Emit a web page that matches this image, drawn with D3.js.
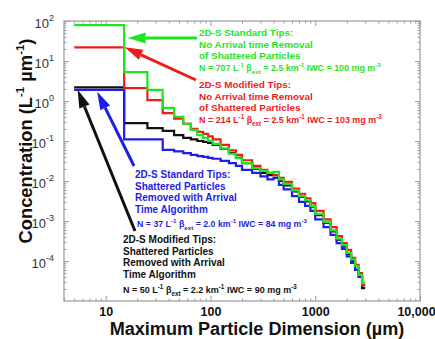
<!DOCTYPE html>
<html>
<head>
<meta charset="utf-8">
<script src="https://cdn.jsdelivr.net/npm/d3@7"></script>
<style>
  html, body { margin: 0; padding: 0; background: #fff; }
  svg { display: block; font-family: "Liberation Sans", Arial, sans-serif; }
</style>
</head>
<body>
<svg id="chart" width="435" height="339"></svg>
<script>
// Size-bin edges (µm) of the 2D-S size distribution
const binEdges = [5, 15, 25, 35, 45, 55, 65, 75, 85, 95, 105, 125, 150, 175, 200,
  250, 300, 350, 400, 450, 500, 600, 700, 800, 900, 1000, 1200, 1400, 1600, 1800,
  2000, 2200, 2400, 2600, 2800, 3000];

// Concentration per bin (L^-1 µm^-1)
const standardNoRemoval = [79, 5.3, 1.9, 0.67, 0.40, 0.27, 0.19, 0.14, 0.12, 0.10,
  0.085, 0.065, 0.048, 0.037, 0.028, 0.021, 0.018, 0.016, 0.017, 0.011,
  0.0085, 0.0058, 0.0042, 0.0033, 0.0024, 0.0015, 0.00095, 0.00058, 0.00036, 0.00025,
  0.00016, 0.00011, 0.000075, 0.000045, 0.000028];
const modifiedNoRemoval = [22, 2.1, 1.05, 0.5, 0.36, 0.27, 0.2, 0.17, 0.15, 0.13,
  0.11, 0.08, 0.058, 0.045, 0.033, 0.024, 0.019, 0.016, 0.014, 0.012,
  0.0095, 0.0065, 0.0048, 0.0037, 0.0028, 0.0018, 0.0011, 0.0007, 0.00042, 0.00028,
  0.00019, 0.00012, 0.00008, 0.00005, 0.000025];
const standardRemoved = [1.9, 0.11, 0.11, 0.06, 0.055, 0.05, 0.045, 0.042, 0.04, 0.038,
  0.036, 0.032, 0.028, 0.024, 0.019, 0.016, 0.013, 0.011, 0.012, 0.008,
  0.0062, 0.0042, 0.003, 0.0024, 0.0018, 0.0011, 0.0007, 0.00045, 0.00028, 0.0002,
  0.00013, 0.00009, 0.00006, 0.00004, 0.000025];
const modifiedRemoved = [2.2, 0.28, 0.21, 0.18, 0.14, 0.12, 0.11, 0.10, 0.095, 0.09,
  0.08, 0.064, 0.05, 0.038, 0.028, 0.02, 0.016, 0.014, 0.014, 0.01,
  0.0078, 0.0055, 0.004, 0.0031, 0.0023, 0.0014, 0.0009, 0.00055, 0.00034, 0.00023,
  0.00015, 0.0001, 0.00006, 0.00004, 0.000021];

const xTickValues = [10, 100, 1000, 10000];
const xTickLabels = ["10", "100", "1000", "10,000"];
const yTickExponents = [2, 1, 0, -1, -2, -3, -4];

const colors = { green: "#1ee61e", red: "#f01c1c", blue: "#1e1ee6", black: "#111" };

const series = [
  { name: "modifiedRemoved", values: modifiedRemoved, color: colors.black },
  { name: "standardRemoved", values: standardRemoved, color: colors.blue },
  { name: "modifiedNoRemoval", values: modifiedNoRemoval, color: colors.red },
  { name: "standardNoRemoval", values: standardNoRemoval, color: colors.green }
];

const svg = d3.select("#chart");
const plot = { left: 64, top: 21, right: 420, bottom: 301 };

const x = d3.scaleLog().domain([4, 10000]).range([plot.left, plot.right]);
const y = d3.scaleLog().domain([1e-5, 100]).range([plot.bottom, plot.top]);

// scale a text element's font sizes so its rendered length equals `target`
function fitWidth(textSel, target) {
  const w = textSel.node().getComputedTextLength();
  if (!w) return;
  const k = target / w;
  textSel.attr("font-size", +textSel.attr("font-size") * k);
  textSel.selectAll("tspan").each(function() {
    const t = d3.select(this);
    if (t.attr("font-size")) t.attr("font-size", +t.attr("font-size") * k);
    if (t.attr("dy")) t.attr("dy", +t.attr("dy") * k);
  });
}

// frame
svg.append("rect")
  .attr("x", plot.left).attr("y", plot.top)
  .attr("width", plot.right - plot.left).attr("height", plot.bottom - plot.top)
  .attr("fill", "none").attr("stroke", "#9a9a9a").attr("stroke-width", 1.2);

// minor / major tick positions
const xMinor = [];
for (let d = 1; d <= 1000; d *= 10) for (let k = 2; k <= 9; k++) { const v = k * d; if (v >= 4) xMinor.push(v); }
const yMinor = [];
for (let e = -5; e < 2; e++) for (let k = 2; k <= 9; k++) yMinor.push(k * Math.pow(10, e));
const yMajor = yTickExponents.map(e => Math.pow(10, e));

function styleAxis(g) {
  g.select(".domain").remove();
  g.selectAll(".tick line").attr("stroke", "#9a9a9a").attr("stroke-width", 1);
}

// bottom axis with labels
const xAxisBottom = d3.axisBottom(x).tickValues(xTickValues)
  .tickFormat((d, i) => xTickLabels[i]).tickSizeInner(-5).tickPadding(6);
svg.append("g").attr("transform", `translate(0,${plot.bottom})`).call(xAxisBottom)
  .call(styleAxis)
  .call(g => g.selectAll("text").attr("font-size", 12.5).attr("font-weight", "bold")
    .attr("fill", "#111").attr("font-family", "Liberation Sans, Arial, sans-serif"))
  .call(g => g.selectAll("text").filter(d => d === 10000).attr("dx", -4));
svg.append("g").attr("transform", `translate(0,${plot.bottom})`)
  .call(d3.axisBottom(x).tickValues(xMinor).tickFormat("").tickSizeInner(-2.5)).call(styleAxis);
svg.append("g").attr("transform", `translate(0,${plot.top})`)
  .call(d3.axisTop(x).tickValues(xTickValues).tickFormat("").tickSizeInner(-5)).call(styleAxis);
svg.append("g").attr("transform", `translate(0,${plot.top})`)
  .call(d3.axisTop(x).tickValues(xMinor).tickFormat("").tickSizeInner(-2.5)).call(styleAxis);

// left axis with power-of-ten labels
const yAxisLeft = d3.axisLeft(y).tickValues(yMajor).tickFormat("").tickSizeInner(-5);
const gy = svg.append("g").attr("transform", `translate(${plot.left},0)`).call(yAxisLeft).call(styleAxis);
gy.selectAll(".tick").each(function(d) {
  const e = Math.round(Math.log10(d));
  const t = d3.select(this).append("text")
    .attr("x", -10).attr("y", 6).attr("text-anchor", "end")
    .attr("fill", "#333").attr("font-size", 13);
  t.append("tspan").text("10");
  t.append("tspan").attr("font-size", 9).attr("dy", -7).text(String(e));
});
svg.append("g").attr("transform", `translate(${plot.left},0)`)
  .call(d3.axisLeft(y).tickValues(yMinor).tickFormat("").tickSizeInner(-2.5)).call(styleAxis);
svg.append("g").attr("transform", `translate(${plot.right},0)`)
  .call(d3.axisRight(y).tickValues(yMajor).tickFormat("").tickSizeInner(-5)).call(styleAxis);
svg.append("g").attr("transform", `translate(${plot.right},0)`)
  .call(d3.axisRight(y).tickValues(yMinor).tickFormat("").tickSizeInner(-2.5)).call(styleAxis);

// axis titles
const xTitle = svg.append("text")
  .attr("x", 257).attr("y", 335)
  .attr("text-anchor", "middle").attr("font-weight", "bold").attr("font-size", 16.5).attr("fill", "#111")
  .text("Maximum Particle Dimension (\u00b5m)");
fitWidth(xTitle, 295);

const yTitle = svg.append("text")
  .attr("transform", `translate(32,141) rotate(-90)`)
  .attr("text-anchor", "middle").attr("font-weight", "bold").attr("font-size", 16).attr("fill", "#111");
yTitle.append("tspan").text("Concentration (L");
yTitle.append("tspan").attr("font-size", 10).attr("dy", -7).text("-1");
yTitle.append("tspan").attr("dy", 7).text(" \u00b5m");
yTitle.append("tspan").attr("font-size", 10).attr("dy", -7).text("-1");
yTitle.append("tspan").attr("dy", 7).text(")");
fitWidth(yTitle, 205);

// step lines
const stepLine = d3.line()
  .x(d => x(d[0])).y(d => y(d[1]))
  .curve(d3.curveStepAfter);

const plotArea = svg.append("g");
series.forEach(s => {
  const pts = s.values.map((v, i) => [binEdges[i], v]);
  pts.push([binEdges[binEdges.length - 1], s.values[s.values.length - 1]]);
  plotArea.append("path").datum(pts)
    .attr("d", stepLine)
    .attr("fill", "none").attr("stroke", s.color).attr("stroke-width", 2.2)
    .attr("stroke-linejoin", "miter");
});

// annotations
function richText(g, xPos, yPos, parts, color, size) {
  const t = g.append("text").attr("x", xPos).attr("y", yPos)
    .attr("fill", color).attr("font-weight", "bold").attr("font-size", size);
  let shift = 0;
  parts.forEach(p => {
    const kind = p[0], str = p[1];
    let target = 0, fs = size;
    if (kind === "sup") { target = -size * 0.45; fs = size * 0.7; }
    if (kind === "sub") { target = size * 0.3; fs = size * 0.7; }
    t.append("tspan").attr("dy", target - shift).attr("font-size", fs).text(str);
    shift = target;
  });
  return t;
}

function nLine(g, xPos, yPos, n, beta, iwc, color, width) {
  const t = richText(g, xPos, yPos, [
    ["n", `N = ${n} L`], ["sup", "-1"], ["n", "  \u03b2"], ["sub", "ext"],
    ["n", ` = ${beta} km`], ["sup", "-1"], ["n", ` IWC = ${iwc} mg m`], ["sup", "-3"]
  ], color, 9);
  fitWidth(t, width);
}

// multi-line caption; font size set so that line `refIndex` spans `refWidth`
function blockFit(xPos, yPos, lines, color, refIndex, refWidth) {
  const g = svg.append("g");
  lines.forEach((l, i) => {
    g.append("text").attr("x", xPos).attr("y", yPos + i * 11.7)
      .attr("fill", color).attr("font-weight", "bold").attr("font-size", 10).text(l);
  });
  const texts = g.selectAll("text");
  const k = refWidth / texts.nodes()[refIndex].getComputedTextLength();
  texts.attr("font-size", 10 * k);
  return g;
}

const gGreen = blockFit(199, 36, ["2D-S Standard Tips:", "No Arrival time Removal", "of Shattered Particles"], colors.green, 1, 114);
nLine(gGreen, 199, 71, 707, "2.5", 100, colors.green, 182);
const gRed = blockFit(199, 88, ["2D-S Modified Tips:", "No Arrival time Removal", "of Shattered Particles"], colors.red, 1, 114);
nLine(gRed, 199, 123, 214, "2.5", 103, colors.red, 183);
const gBlue = blockFit(135, 178, ["2D-S Standard Tips:", "Shattered Particles", "Removed with Arrival", "Time Algorithm"], colors.blue, 2, 102);
nLine(gBlue, 137, 227, 37, "2.0", 84, colors.blue, 170);
const gBlack = blockFit(123, 243, ["2D-S Modified Tips:", "Shattered Particles", "Removed with Arrival", "Time Algorithm"], colors.black, 2, 102);
nLine(gBlack, 123, 293, 50, "2.2", 90, colors.black, 174);

// arrows: tip located in data space, tail next to its text block
function arrow(tipX, tipY, tailPx, color) {
  const tx = x(tipX), ty = y(tipY);
  const [sx, sy] = tailPx;
  const ang = Math.atan2(ty - sy, tx - sx);
  const headLen = 18, headHalf = 5.5;
  const bx = tx - headLen * Math.cos(ang), by = ty - headLen * Math.sin(ang);
  svg.append("line").attr("x1", sx).attr("y1", sy).attr("x2", bx).attr("y2", by)
    .attr("stroke", color).attr("stroke-width", 3);
  const px = -Math.sin(ang) * headHalf, py = Math.cos(ang) * headHalf;
  svg.append("path")
    .attr("d", `M${tx},${ty}L${bx + px},${by + py}L${bx - px},${by - py}Z`)
    .attr("fill", color);
}
arrow(16.2, 37.5, [197, 38], colors.green);
arrow(15.2, 22, [196, 80], colors.red);
arrow(8.3, 1.7, [134, 166], colors.blue);
arrow(5.4, 1.9, [135, 231], colors.black);
</script>
</body>
</html>
